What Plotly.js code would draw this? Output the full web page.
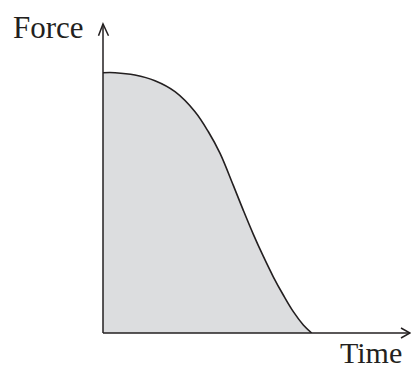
<!DOCTYPE html>
<html>
<head>
<meta charset="utf-8">
<script src="https://cdn.plot.ly/plotly-3.0.1.min.js"></script>
<style>html,body{margin:0;padding:0;background:#fff;}#chart{width:411px;height:370px;}</style>
</head>
<body>
<div id="chart"></div>
<script>
// Data (arbitrary units: time 0..10, force 0..10)
const time  = [0, 0.58, 1.53, 2.49, 3.45, 4.41, 5.05, 5.61, 6.24, 6.72, 7.20, 7.68, 8.16, 8.64, 9.12, 9.60, 10];
const force = [10, 10.0, 9.91, 9.69, 9.27, 8.50, 7.73, 6.90, 5.68, 4.72, 3.80, 2.95, 2.16, 1.46, 0.82, 0.31, 0];
const xLabel = "Time";
const yLabel = "Force";

const ink = "#231f20";
const W = 411, H = 370, L = 103, R = 0, T = 24, B = 37;
const pw = W - L - R, ph = H - T - B;
const px = v => (v - L) / pw;         // pixel x -> paper x
const py = v => (H - B - v) / ph;     // pixel y -> paper y

const trace = {
  x: time, y: force, type: "scatter", mode: "lines",
  line: {shape: "spline", smoothing: 1, color: ink, width: 1.6},
  fill: "tozeroy", fillcolor: "rgb(220,221,223)",
  hoverinfo: "skip", showlegend: false
};

const layout = {
  width: W, height: H,
  margin: {l: L, r: R, t: T, b: B, pad: 0},
  paper_bgcolor: "#fff", plot_bgcolor: "#fff",
  xaxis: {range: [0, 14.76], visible: false, fixedrange: true},
  yaxis: {range: [0, 11.87], visible: false, fixedrange: true},
  shapes: [
    {type: "line", xref: "paper", yref: "paper", x0: 0, y0: 0, x1: px(410), y1: 0, line: {color: ink, width: 1.5}},
    {type: "line", xref: "paper", yref: "paper", x0: 0, y0: 0, x1: 0, y1: 1, line: {color: ink, width: 1.5}},
    {type: "path", xref: "paper", yref: "paper",
     path: `M ${px(98.5)},${py(35.7)} L 0,1 L ${px(108.5)},${py(35.7)}`, line: {color: ink, width: 1.5}},
    {type: "path", xref: "paper", yref: "paper",
     path: `M ${px(401)},${py(328)} L ${px(410)},0 L ${px(401)},${py(338)}`, line: {color: ink, width: 1.5}}
  ],
  annotations: [
    {text: yLabel, xref: "paper", yref: "paper", x: px(48.5), y: py(27.5), xanchor: "center", yanchor: "middle",
     showarrow: false, font: {family: "Liberation Serif, Times New Roman, serif", size: 31, color: ink}},
    {text: xLabel, xref: "paper", yref: "paper", x: px(371), y: py(353), xanchor: "center", yanchor: "middle",
     showarrow: false, font: {family: "Liberation Serif, Times New Roman, serif", size: 30, color: ink}}
  ]
};

Plotly.newPlot("chart", [trace], layout, {staticPlot: true, displayModeBar: false});
</script>
</body>
</html>
